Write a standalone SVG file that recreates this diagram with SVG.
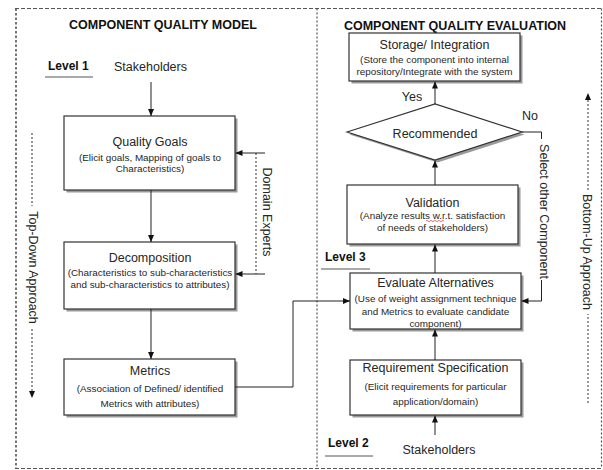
<svg xmlns="http://www.w3.org/2000/svg" width="603" height="470" viewBox="0 0 603 470">
<defs>
<style>
text{font-family:"Liberation Sans",Arial,sans-serif;fill:#262626}
.t{font-size:12.5px;text-anchor:middle}
.s{font-size:9.9px;text-anchor:middle}
.h{font-size:12.5px;font-weight:bold;text-anchor:middle;fill:#111}
.lv{font-size:12px;font-weight:bold;fill:#111}
.box{fill:#fff;stroke:#333;stroke-width:1.2}
.sh{fill:#9a9a9a}
.c{fill:none;stroke:#222;stroke-width:1}
.dot{fill:none;stroke:#555;stroke-width:1.2;stroke-dasharray:2,2}
.ul{stroke:#555;stroke-width:1}
</style>
<marker id="a" markerWidth="7" markerHeight="6" refX="7" refY="3" orient="auto" markerUnits="userSpaceOnUse">
<path d="M0,0 L7,3 L0,6 Z" fill="#111"/>
</marker>
</defs>
<g id="frame">
<path d="M15,8.5 H601" fill="none" stroke="#555" stroke-width="1.2" stroke-dasharray="4,2"/>
<path d="M15,468.5 H601" fill="none" stroke="#555" stroke-width="1.2" stroke-dasharray="4,2"/>
<path d="M16,8.5 V468" fill="none" stroke="#555" stroke-width="1.6" stroke-dasharray="2.5,2"/>
<path d="M601.5,8.5 V468" class="dot"/>
<path d="M317,8.5 V468" class="dot"/>
</g>
<g id="titles">
<text class="h" x="163" y="28.5">COMPONENT QUALITY MODEL</text>
<text class="h" x="455" y="29.5">COMPONENT QUALITY EVALUATION</text>
</g>
<g id="level1">
<text class="lv" x="48" y="70">Level 1</text>
<line class="ul" x1="45" y1="77" x2="93" y2="77"/>
</g>
<g id="stakeholders1"><text class="t" x="150.5" y="71">Stakeholders</text></g>
<g id="quality-goals">
<rect class="sh" x="66.5" y="118.5" width="171" height="74"/>
<rect class="box" x="64" y="116" width="171" height="74"/>
<text class="t" x="150" y="146">Quality Goals</text>
<text class="s" x="150" y="160.5">(Elicit goals, Mapping of goals to</text>
<text class="s" x="150" y="171.5">Characteristics)</text>
</g>
<g id="decomposition">
<rect class="sh" x="66.5" y="244.5" width="171" height="67"/>
<rect class="box" x="64" y="242" width="171" height="67"/>
<text class="t" x="150" y="261.5">Decomposition</text>
<text class="s" x="150" y="275.5">(Characteristics to sub-characteristics</text>
<text class="s" x="150" y="287.5">and sub-characteristics to attributes)</text>
</g>
<g id="metrics">
<rect class="sh" x="66.5" y="361.5" width="171" height="56"/>
<rect class="box" x="64" y="359" width="171" height="56"/>
<text class="t" x="150" y="374.5">Metrics</text>
<text class="s" x="150" y="391.5">(Association of Defined/ identified</text>
<text class="s" x="150" y="406.5">Metrics with attributes)</text>
</g>
<g id="domain-experts">
<path class="dot" d="M256,153 V274"/>
<text class="t" font-size="12" transform="translate(263,212) rotate(90)">Domain Experts</text>
</g>
<g id="top-down">
<path class="dot" d="M32,133 V206"/>
<path class="dot" d="M32,329 V392"/>
<path d="M29,391 L32,398 L35,391 Z" fill="#111"/>
<text class="t" transform="translate(29,267.5) rotate(90)">Top-Down Approach</text>
</g>
<g id="storage">
<rect class="sh" x="351.5" y="35.5" width="171" height="48"/>
<rect class="box" x="349" y="33" width="171" height="48"/>
<text class="t" x="434.5" y="48.5">Storage/ Integration</text>
<text class="s" x="434.5" y="62.5">(Store the component into internal</text>
<text class="s" x="434.5" y="74.5">repository/Integrate with the system</text>
</g>
<g id="recommended">
<path d="M349.5,134.5 L437.5,106.5 L524.5,134.5 L437.5,162.5 Z" class="sh"/>
<path d="M347,132 L435,104 L522,132 L435,160 Z" class="box"/>
<text class="t" x="435" y="137.5">Recommended</text>
</g>
<g id="validation">
<rect class="sh" x="349.5" y="187.5" width="171" height="59"/>
<rect class="box" x="347" y="185" width="171" height="59"/>
<text class="t" x="432.5" y="206.5">Validation</text>
<text class="s" x="432.5" y="218.5">(Analyze results w.r.t. satisfaction</text>
<path d="M426,221 q1,-1.2 2,0 t2,0 t2,0 t2,0 t2,0 t2,0 t2,0 t2,0 t2,0" fill="none" stroke="#d33" stroke-width="0.7"/>
<text class="s" x="432.5" y="230.5">of needs of stakeholders)</text>
</g>
<g id="level3">
<text class="lv" x="325" y="261">Level 3</text>
<line class="ul" x1="321" y1="269" x2="370" y2="269"/>
</g>
<g id="evaluate">
<rect class="sh" x="352.5" y="275.5" width="171" height="56"/>
<rect class="box" x="350" y="273" width="171" height="56"/>
<text class="t" x="435.5" y="286.5">Evaluate Alternatives</text>
<text class="s" x="435.5" y="301.5">(Use of weight assignment technique</text>
<text class="s" x="435.5" y="314.5">and Metrics to evaluate candidate</text>
<text class="s" x="435.5" y="326.5">component)</text>
</g>
<g id="requirement">
<rect class="sh" x="352.5" y="362.5" width="171" height="55"/>
<rect class="box" x="350" y="360" width="171" height="55"/>
<text class="t" x="435.5" y="371.5">Requirement Specification</text>
<text class="s" x="435.5" y="389.5">(Elicit requirements for particular</text>
<text class="s" x="435.5" y="404.5">application/domain)</text>
</g>
<g id="level2">
<text class="lv" x="328" y="447">Level 2</text>
<line class="ul" x1="325" y1="456" x2="373" y2="456"/>
</g>
<g id="stakeholders2"><text class="t" x="439" y="453.5">Stakeholders</text></g>
<g id="bottom-up">
<path class="dot" d="M588,403 V314"/>
<path class="dot" d="M588,190 V99"/>
<path d="M585,100 L588,93 L591,100 Z" fill="#111"/>
<text class="t" transform="translate(583,252) rotate(90)">Bottom-Up Approach</text>
</g>
<g id="connectors">
<path class="c" d="M151,82 V116" marker-end="url(#a)"/>
<path class="c" d="M151,190 V242" marker-end="url(#a)"/>
<path class="c" d="M151,309 V359" marker-end="url(#a)"/>
<path class="c" d="M265,153 H235.5" marker-end="url(#a)"/>
<path class="c" d="M265,274 H235.5" marker-end="url(#a)"/>
<path class="c" d="M235,387 H293 V301 H350" marker-end="url(#a)"/>
<path class="c" d="M435,435 V415.5" marker-end="url(#a)"/>
<path class="c" d="M435,360 V329.5" marker-end="url(#a)"/>
<path class="c" d="M435,273 V244.5" marker-end="url(#a)"/>
<path class="c" d="M435,185 V160.5" marker-end="url(#a)"/>
<path class="c" d="M435,104 V81.5" marker-end="url(#a)"/>
<path class="c" d="M522,132 H541.5 V139"/>
<path class="c" d="M541.5,280 V301 H521.5" marker-end="url(#a)"/>
<text class="t" x="412" y="101">Yes</text>
<text class="t" x="530" y="119.5">No</text>
<text class="t" font-size="12" transform="translate(539.5,211.5) rotate(90)">Select other Component</text>
</g>
</svg>
